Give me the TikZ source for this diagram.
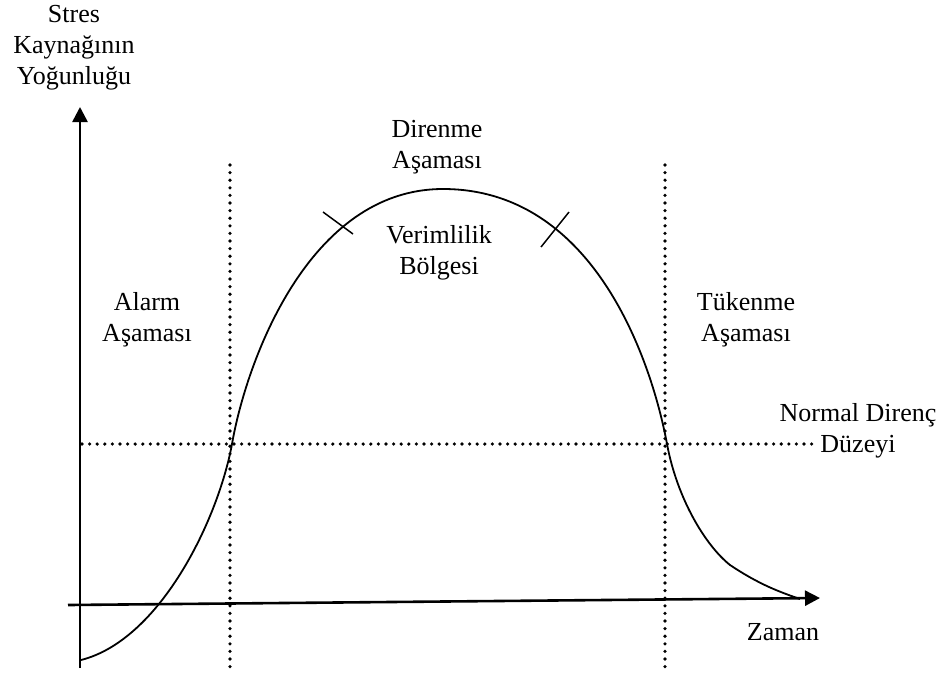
\documentclass[tikz,border=0pt]{standalone}
\usepackage{fontspec}
\setmainfont{Liberation Serif}
\usetikzlibrary{arrows.meta}

\begin{document}
\begin{tikzpicture}[
    x=1pt, y=-1pt,
    axis/.style={draw, line width=2.6pt, -{Triangle[length=15pt, width=15pt]}},
    level/.style={draw, line width=3.6pt, line cap=round, dash pattern=on 0pt off 7.6pt},
    curve/.style={draw, line width=1.8pt},
    tick/.style={draw, line width=1.5pt},
    lbl/.style={font=\fontsize{26}{31}\selectfont, align=center, inner sep=0pt}
]
  \useasboundingbox (0,0) rectangle (941,678);
  % Axes.
  \coordinate (yo) at (80,668);
  \coordinate (ytip) at (80,107);
  \coordinate (xo) at (68,605);
  \coordinate (xtip) at (820,598);
  \draw[axis] (yo) -- (ytip);
  \draw[axis] (xo) -- (xtip);
  % Stage borders and the normal level.
  \coordinate (a1) at (230,165);
  \coordinate (a2) at (230,672);
  \coordinate (b1) at (665,165);
  \coordinate (b2) at (665,672);
  \coordinate (n1) at (82,444);
  \coordinate (n2) at (816,444);
  \draw[level] (a1) -- (a2);
  \draw[level] (b1) -- (b2);
  \draw[level] (n1) -- (n2);
  % Response curve.
  \coordinate (c0) at (81,660);
  \coordinate (c1) at (232,444);
  \coordinate (top) at (443,189);
  \coordinate (c2) at (667,444);
  \coordinate (c3) at (730,565);
  \coordinate (c4) at (800,599);
  \draw[curve] (c0) .. controls (160,640) and (218,520) .. (c1)
    .. controls (246,363) and (308,189) .. (top)
    .. controls (595,189) and (652,363) .. (c2)
    .. controls (677,498) and (705,545) .. (c3)
    .. controls (760,585) and (780,592) .. (c4);
  % Edges of the efficient zone.
  \coordinate (t1) at (323,212);
  \coordinate (t2) at (353,234);
  \coordinate (t3) at (569,212);
  \coordinate (t4) at (541,247);
  \draw[tick] (t1) -- (t2);
  \draw[tick] (t3) -- (t4);
  % Labels.
  \node[lbl] (ylab) at (74,48) {Stres\\Kaynağının\\Yoğunluğu};
  \node[lbl, anchor=base] (xlab) at (783,640) {Zaman};
  \node[lbl] (direnme) at (437,147) {Direnme\\Aşaması};
  \node[lbl] (verim) at (439,253) {Verimlilik\\Bölgesi};
  \node[lbl] (alarm) at (147,320) {Alarm\\Aşaması};
  \node[lbl] (tukenme) at (746,320) {Tükenme\\Aşaması};
  \node[lbl] (normal) at (858,431) {Normal Direnç\\Düzeyi};
\end{tikzpicture}
\end{document}
